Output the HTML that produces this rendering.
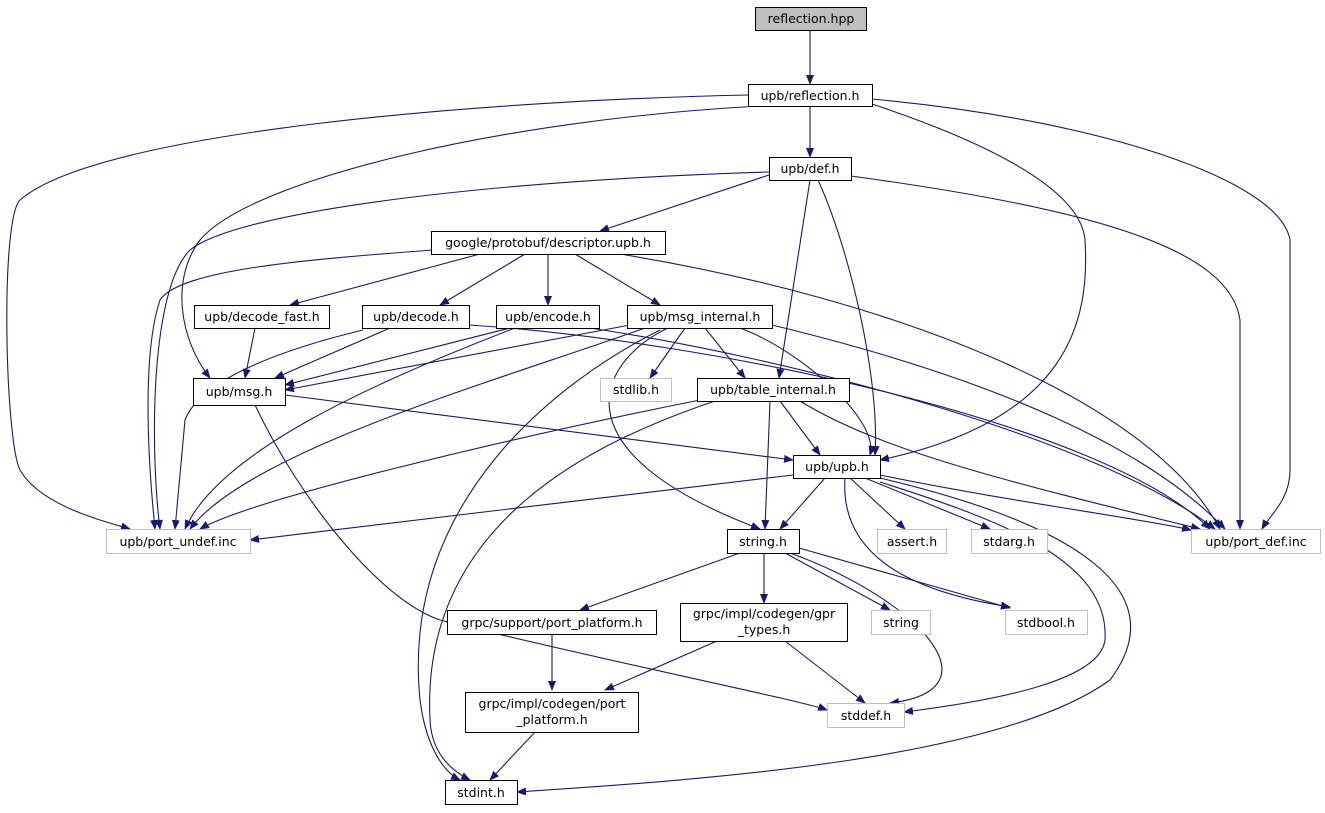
<!DOCTYPE html>
<html><head><meta charset="utf-8"><style>
html,body{margin:0;padding:0;background:#fff;}
svg{display:block;}
text{font-family:"DejaVu Sans","Liberation Sans",sans-serif;font-size:12.5px;fill:#000;text-anchor:middle;}
.n rect{fill:#fff;stroke:#000;stroke-width:1;}
.g rect{fill:#fff;stroke:#bfbfbf;stroke-width:1;}
path.e{fill:none;stroke:#191970;stroke-width:1.1;}
</style></head><body>
<svg width="1325" height="813" viewBox="0 0 1325 813">
<defs><marker id="a" markerWidth="10" markerHeight="8" refX="9" refY="4" orient="auto" markerUnits="userSpaceOnUse"><path d="M0,0 L10,4 L0,8 z" fill="#191970"/></marker></defs>
<g marker-end="url(#a)">
<path class="e" d="M810,30 L810,84"/>
<path class="e" d="M810,106 L810,157"/>
<path class="e" d="M748,95 C500,100 100,130 20,200 C0,220 5,440 20,470 C40,505 100,520 130,529"/>
<path class="e" d="M760,106 C500,120 250,180 200,240 C170,280 180,340 210,378"/>
<path class="e" d="M872,104 C950,130 1080,180 1085,240 C1090,320 1070,420 880,460"/>
<path class="e" d="M872,99 C1100,120 1280,180 1290,240 L1290,470 C1290,500 1270,515 1262,529"/>
<path class="e" d="M769,175 L600,231"/>
<path class="e" d="M769,172 C500,180 240,210 190,250 C150,290 150,450 160,529"/>
<path class="e" d="M810,180 L779,378"/>
<path class="e" d="M818,180 C850,250 880,380 875,455"/>
<path class="e" d="M851,176 C1100,210 1230,250 1240,320 L1240,529"/>
<path class="e" d="M433,250 C300,260 180,270 160,300 C140,360 150,480 155,529"/>
<path class="e" d="M480,254 L290,305"/>
<path class="e" d="M525,254 L440,305"/>
<path class="e" d="M548,254 L548,305"/>
<path class="e" d="M575,254 L660,305"/>
<path class="e" d="M620,254 C900,300 1150,400 1220,529"/>
<path class="e" d="M255,328 L245,378"/>
<path class="e" d="M390,328 L275,378"/>
<path class="e" d="M363,330 C280,350 200,380 185,420 L175,529"/>
<path class="e" d="M469,325 C700,340 1100,420 1210,529"/>
<path class="e" d="M510,328 L285,385"/>
<path class="e" d="M515,328 C380,380 220,450 185,529"/>
<path class="e" d="M590,328 C800,360 1100,440 1215,529"/>
<path class="e" d="M630,325 L285,390"/>
<path class="e" d="M645,328 C500,380 250,450 190,529"/>
<path class="e" d="M685,328 L650,378"/>
<path class="e" d="M705,328 L745,378"/>
<path class="e" d="M740,328 C800,350 880,420 870,455"/>
<path class="e" d="M668,328 C600,360 550,450 760,529"/>
<path class="e" d="M660,330 C560,380 400,500 420,700 C425,740 440,770 460,780"/>
<path class="e" d="M772,325 C1000,380 1150,450 1225,529"/>
<path class="e" d="M285,395 L793,460"/>
<path class="e" d="M255,405 C300,500 380,600 440,620 C600,660 800,700 827,710"/>
<path class="e" d="M700,400 C500,440 250,500 200,529"/>
<path class="e" d="M770,401 L765,529"/>
<path class="e" d="M780,401 L820,455"/>
<path class="e" d="M715,401 C600,440 420,520 430,720 C432,760 460,775 470,780"/>
<path class="e" d="M800,401 C880,450 1000,480 1200,529"/>
<path class="e" d="M793,475 L250,540"/>
<path class="e" d="M825,478 L780,529"/>
<path class="e" d="M850,478 L905,529"/>
<path class="e" d="M865,478 L990,529"/>
<path class="e" d="M880,475 C1000,500 1150,520 1191,530"/>
<path class="e" d="M845,478 C840,550 900,590 1010,607"/>
<path class="e" d="M880,482 C1000,520 1110,560 1105,640 C1100,680 1000,700 904,712"/>
<path class="e" d="M880,478 C1100,530 1170,600 1110,680 C1000,760 700,780 517,792"/>
<path class="e" d="M740,553 L580,610"/>
<path class="e" d="M764,553 L764,603"/>
<path class="e" d="M785,553 L890,610"/>
<path class="e" d="M799,548 L1010,608"/>
<path class="e" d="M790,553 C920,600 1000,690 890,703"/>
<path class="e" d="M552,634 L552,690"/>
<path class="e" d="M717,641 L605,690"/>
<path class="e" d="M785,641 L865,703"/>
<path class="e" d="M535,732 L490,780"/>
</g>
<g class="n"><rect x="755.5" y="7.5" width="111" height="23" style="fill:#bfbfbf"/><text x="811" y="23">reflection.hpp</text></g>
<g class="n"><rect x="748.5" y="84.5" width="124" height="22"/><text x="810" y="100">upb/reflection.h</text></g>
<g class="n"><rect x="769.5" y="157.5" width="82" height="23"/><text x="810" y="173">upb/def.h</text></g>
<g class="n"><rect x="431.5" y="231.5" width="234" height="23"/><text x="548" y="247">google/protobuf/descriptor.upb.h</text></g>
<g class="n"><rect x="194.5" y="305.5" width="135" height="23"/><text x="262" y="321">upb/decode_fast.h</text></g>
<g class="n"><rect x="362.5" y="305.5" width="107" height="23"/><text x="416" y="321">upb/decode.h</text></g>
<g class="n"><rect x="496.5" y="305.5" width="103" height="23"/><text x="548" y="321">upb/encode.h</text></g>
<g class="n"><rect x="627.5" y="305.5" width="145" height="23"/><text x="700" y="321">upb/msg_internal.h</text></g>
<g class="g"><rect x="600.5" y="378.5" width="71" height="23"/><text x="636" y="394">stdlib.h</text></g>
<g class="n"><rect x="193.5" y="378.5" width="92" height="27"/><text x="239" y="396">upb/msg.h</text></g>
<g class="n"><rect x="697.5" y="378.5" width="152" height="23"/><text x="773" y="394">upb/table_internal.h</text></g>
<g class="n"><rect x="793.5" y="455.5" width="87" height="23"/><text x="837" y="471">upb/upb.h</text></g>
<g class="g"><rect x="106.5" y="529.5" width="144" height="24"/><text x="178" y="546">upb/port_undef.inc</text></g>
<g class="n"><rect x="727.5" y="529.5" width="72" height="24"/><text x="763" y="546">string.h</text></g>
<g class="g"><rect x="877.5" y="529.5" width="69" height="24"/><text x="912" y="546">assert.h</text></g>
<g class="g"><rect x="971.5" y="529.5" width="76" height="24"/><text x="1009" y="546">stdarg.h</text></g>
<g class="g"><rect x="1191.5" y="529.5" width="129" height="24"/><text x="1256" y="546">upb/port_def.inc</text></g>
<g class="n"><rect x="447.5" y="610.5" width="209" height="24"/><text x="552" y="627">grpc/support/port_platform.h</text></g>
<g class="n"><rect x="680.5" y="603.5" width="167" height="38"/><text x="764" y="618">grpc/impl/codegen/gpr</text><text x="764" y="634">_types.h</text></g>
<g class="g"><rect x="871.5" y="610.5" width="59" height="24"/><text x="901" y="627">string</text></g>
<g class="g"><rect x="1005.5" y="610.5" width="82" height="24"/><text x="1046" y="627">stdbool.h</text></g>
<g class="g"><rect x="827.5" y="703.5" width="77" height="24"/><text x="866" y="720">stddef.h</text></g>
<g class="n"><rect x="465.5" y="692.5" width="173" height="40"/><text x="552" y="708">grpc/impl/codegen/port</text><text x="552" y="724">_platform.h</text></g>
<g class="n"><rect x="445.5" y="780.5" width="72" height="24"/><text x="481" y="797">stdint.h</text></g>
</svg>
</body></html>
